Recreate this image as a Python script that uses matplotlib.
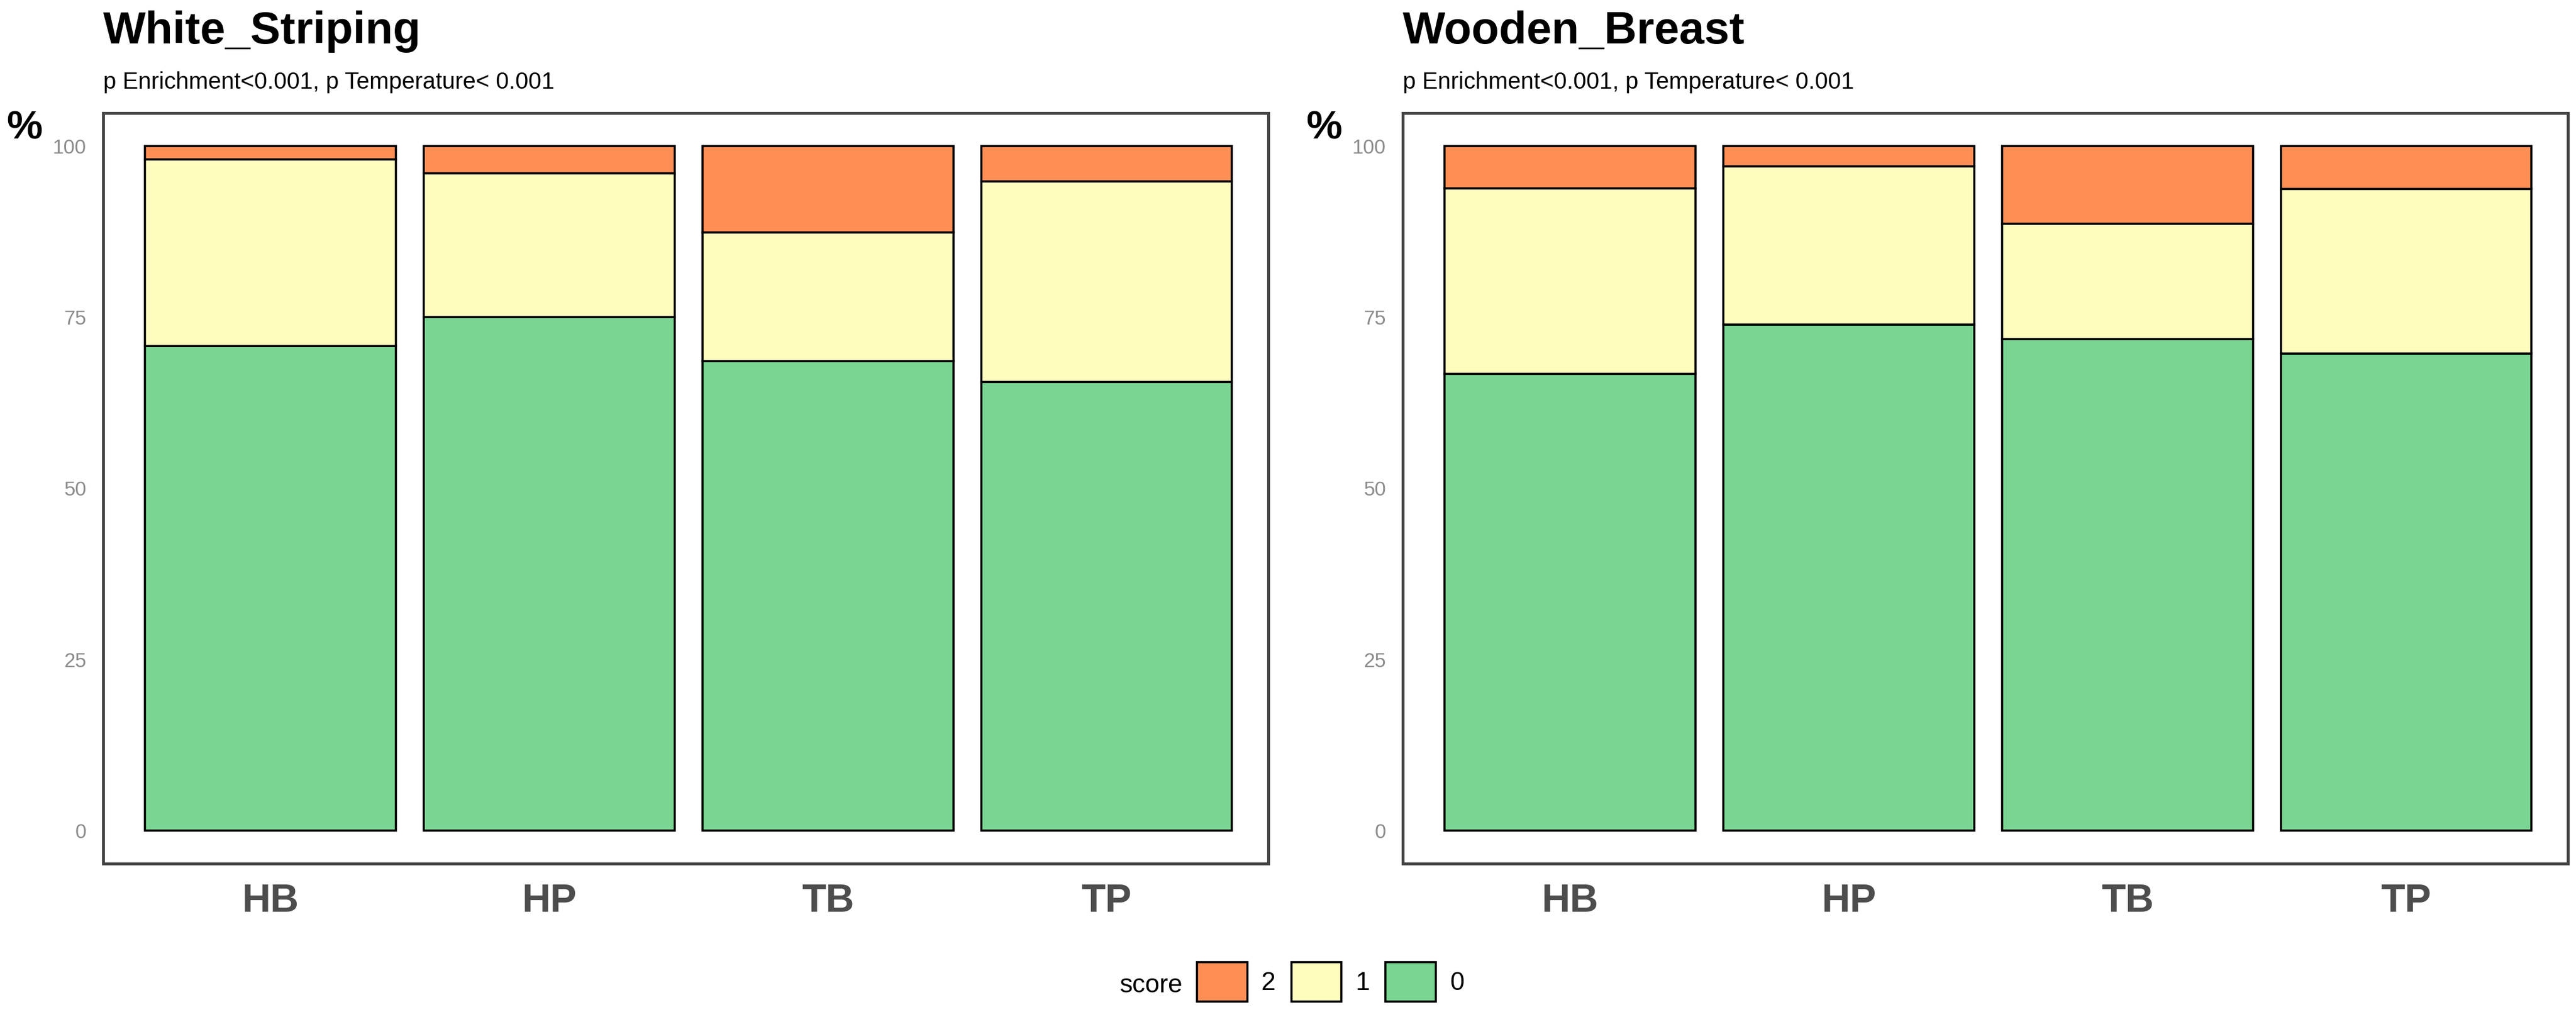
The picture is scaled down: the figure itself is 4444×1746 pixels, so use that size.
"""
Stacked score distribution (%) per group for White_Striping and Wooden_Breast
"""

import numpy as np
import matplotlib.pyplot as plt

plt.rcParams['font.family'] = ['Liberation Sans', 'DejaVu Sans']

# Data (percent of birds per score)
groups = ["HB", "HP", "TB", "TP"]
scores = ["2", "1", "0"]

ws_score0 = [70.8, 75.0, 68.6, 65.5]
ws_score1 = [27.2, 21.0, 18.8, 29.3]
ws_score2 = [2.0, 4.0, 12.6, 5.2]

wb_score0 = [66.7, 73.9, 71.8, 69.7]
wb_score1 = [27.1, 23.1, 16.8, 24.0]
wb_score2 = [6.2, 3.0, 11.4, 6.3]

titles = ["White_Striping", "Wooden_Breast"]
subtitle = "p Enrichment<0.001, p Temperature< 0.001"
yticks = [0, 25, 50, 75, 100]

colors = {"2": "#FF8E55", "1": "#FFFDBE", "0": "#7AD592"}

W, H = 4444, 1746


def PlotPanel(ax, s0, s1, s2):
    x = np.arange(1, len(groups) + 1)
    s0 = np.array(s0)
    s1 = np.array(s1)
    s2 = np.array(s2)
    kw = dict(width=0.9, edgecolor="black", linewidth=2.6)
    b0 = ax.bar(x, s0, color=colors["0"], label="0", **kw)
    b1 = ax.bar(x, s1, bottom=s0, color=colors["1"], label="1", **kw)
    b2 = ax.bar(x, s2, bottom=s0 + s1, color=colors["2"], label="2", **kw)

    ax.set_xlim(0.4, 4.58)
    ax.set_ylim(-4.8, 104.8)
    ax.set_xticks(x)
    ax.set_xticklabels(groups, fontsize=49, fontweight="bold", color="#4d4d4d")
    ax.set_yticks(yticks)
    ax.set_yticklabels([str(v) for v in yticks], fontsize=25, color="#8c8c8c")
    ax.tick_params(axis="x", length=0, pad=24)
    ax.tick_params(axis="y", length=0, pad=21)

    for sp in ax.spines.values():
        sp.set_color("#444444")
        sp.set_linewidth(3.6)

    ax.set_ylabel("%", rotation=0, fontsize=50, fontweight="bold",
                  ha="right", va="top")
    ax.yaxis.set_label_coords(-0.052, 1.004)
    return b2, b1, b0


if __name__ == "__main__":
    fig = plt.figure(figsize=(W / 100, H / 100), dpi=100)

    ax_bottom = 1 - 1490 / H
    ax_height = (1490 - 195) / H
    ax_width = 2010 / W
    lefts = [178, 2420]
    data = [(ws_score0, ws_score1, ws_score2), (wb_score0, wb_score1, wb_score2)]

    handles = None
    for i, left in enumerate(lefts):
        ax = fig.add_axes([left / W, ax_bottom, ax_width, ax_height])
        handles = PlotPanel(ax, *data[i])
        fig.text(left / W, 1 - 75 / H, titles[i], fontsize=56,
                 fontweight="bold", ha="left", va="baseline")
        fig.text(left / W, 1 - 153 / H, subtitle, fontsize=29,
                 ha="left", va="baseline")

    # Legend at the bottom
    fig.text(2041 / W, 1 - 1700 / H, "score", fontsize=32,
             ha="right", va="center")
    fig.legend(handles, scores, loc="center left",
               bbox_to_anchor=(2065 / W, 1 - 1694 / H),
               ncol=3, frameon=False, fontsize=32, borderpad=0,
               borderaxespad=0, handlelength=1.95, handleheight=1.95,
               handletextpad=0.55, columnspacing=0.6)

    fig.savefig("out.png", dpi=100)
    plt.close(fig)
